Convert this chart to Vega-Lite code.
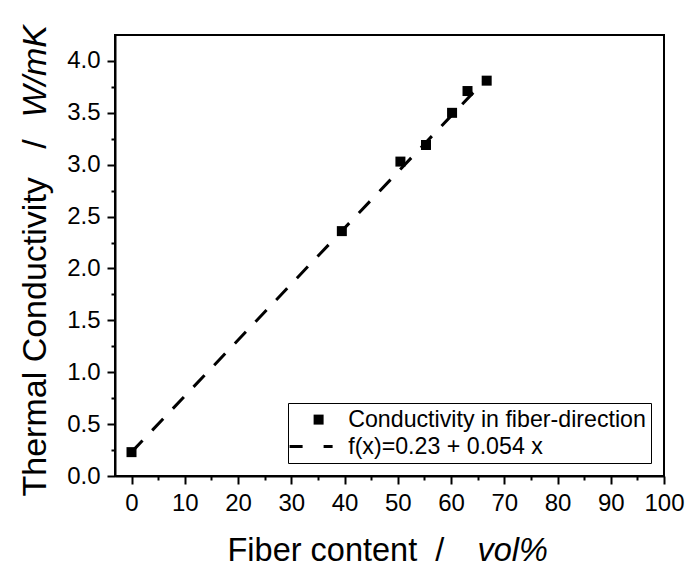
{
  "$schema": "https://vega.github.io/schema/vega-lite/v6.json",
  "width": 549,
  "height": 441,
  "autosize": {"type": "none"},
  "padding": {"left": 115, "top": 35, "right": 26, "bottom": 91},
  "background": "white",
  "config": {
    "font": "Liberation Sans",
    "view": {"stroke": "black", "strokeWidth": 2},
    "axis": {
      "grid": false,
      "domainColor": "black",
      "domainWidth": 2,
      "tickColor": "black",
      "tickWidth": 2,
      "labelColor": "black",
      "titleColor": "black",
      "labelFont": "Liberation Sans",
      "titleFont": "Liberation Sans",
      "labelFontSize": 24,
      "labelOverlap": false,
      "labelFlush": false,
      "titleFontSize": 32.5,
      "titleFontWeight": "normal"
    }
  },
  "datasets": {
    "points": [
      {"fiber": 0, "k": 0.23, "series": "Conductivity in fiber-direction"},
      {"fiber": 39.5, "k": 2.36, "series": "Conductivity in fiber-direction"},
      {"fiber": 50.5, "k": 3.03, "series": "Conductivity in fiber-direction"},
      {"fiber": 55.3, "k": 3.19, "series": "Conductivity in fiber-direction"},
      {"fiber": 60.2, "k": 3.5, "series": "Conductivity in fiber-direction"},
      {"fiber": 63.1, "k": 3.71, "series": "Conductivity in fiber-direction"},
      {"fiber": 66.7, "k": 3.81, "series": "Conductivity in fiber-direction"}
    ],
    "fit": [
      {"fiber": 0, "k": 0.23},
      {"fiber": 66.5, "k": 3.82}
    ]
  },
  "layer": [
    {
      "data": {"name": "fit"},
      "mark": {"type": "line", "color": "black", "strokeWidth": 3, "strokeDash": [16, 14]},
      "encoding": {
        "x": {
          "field": "fiber", "type": "quantitative",
          "scale": {"domain": [-3.1, 100], "nice": false, "zero": false},
          "axis": {
            "orient": "bottom",
            "values": [0, 10, 20, 30, 40, 50, 60, 70, 80, 90, 100],
            "tickSize": 8, "labelPadding": 7,
            "title": "Fiber content\u00a0\u00a0/",
            "titleX": 112, "titleY": 84, "titleAlign": "left", "titleBaseline": "alphabetic"
          }
        },
        "y": {
          "field": "k", "type": "quantitative",
          "scale": {"domain": [0, 4.25], "nice": false, "zero": false},
          "axis": {
            "orient": "left",
            "values": [0, 0.5, 1, 1.5, 2, 2.5, 3, 3.5, 4],
            "format": ".1f",
            "tickSize": 8, "labelPadding": 7,
            "title": "Thermal Conductivity\u00a0\u00a0\u00a0/",
            "titleFontSize": 34,
            "titleX": -70, "titleY": 461, "titleAngle": 270, "titleAlign": "left", "titleBaseline": "alphabetic"
          }
        }
      }
    },
    {
      "data": {"name": "points"},
      "mark": {"type": "point", "filled": true, "size": 100, "color": "black", "strokeWidth": 0, "opacity": 1},
      "encoding": {
        "x": {
          "field": "fiber", "type": "quantitative",
          "scale": {"domain": [-3.1, 100], "nice": false, "zero": false},
          "axis": {
            "orient": "bottom",
            "values": [5, 15, 25, 35, 45, 55, 65, 75, 85, 95],
            "tickSize": 4, "labels": false, "domain": false,
            "title": "vol%", "titleFontStyle": "italic",
            "titleX": 362, "titleY": 84, "titleAlign": "left", "titleBaseline": "alphabetic"
          }
        },
        "y": {
          "field": "k", "type": "quantitative",
          "scale": {"domain": [0, 4.25], "nice": false, "zero": false},
          "axis": {
            "orient": "left",
            "values": [0.25, 0.75, 1.25, 1.75, 2.25, 2.75, 3.25, 3.75],
            "tickSize": 4, "labels": false, "domain": false,
            "title": "W/mK", "titleFontStyle": "italic",
            "titleFontSize": 34,
            "titleX": -70, "titleY": 82, "titleAngle": 270, "titleAlign": "left", "titleBaseline": "alphabetic"
          }
        },
        "shape": {
          "field": "series", "type": "nominal",
          "scale": {
            "domain": ["Conductivity in fiber-direction", "f(x)=0.23 + 0.054 x"],
            "range": ["M-1,-1H1V1H-1Z", "M-5.8,-0.3H-3.2V0.3H-5.8ZM1,-0.3H2.8V0.3H1Z"]
          },
          "legend": {
            "orient": "none", "legendX": 173, "legendY": 368,
            "title": null,
            "strokeColor": "black",
            "padding": 5,
            "labelFontSize": 23.2, "labelColor": "black", "labelFont": "Liberation Sans", "labelLimit": 0,
            "labelOffset": 18,
            "symbolOffset": 14,
            "rowPadding": 3,
            "symbolSize": 100,
            "symbolStrokeWidth": 0,
            "symbolFillColor": "black",
            "symbolOpacity": 1
          }
        }
      }
    }
  ],
  "resolve": {"axis": {"x": "independent", "y": "independent"}}
}
